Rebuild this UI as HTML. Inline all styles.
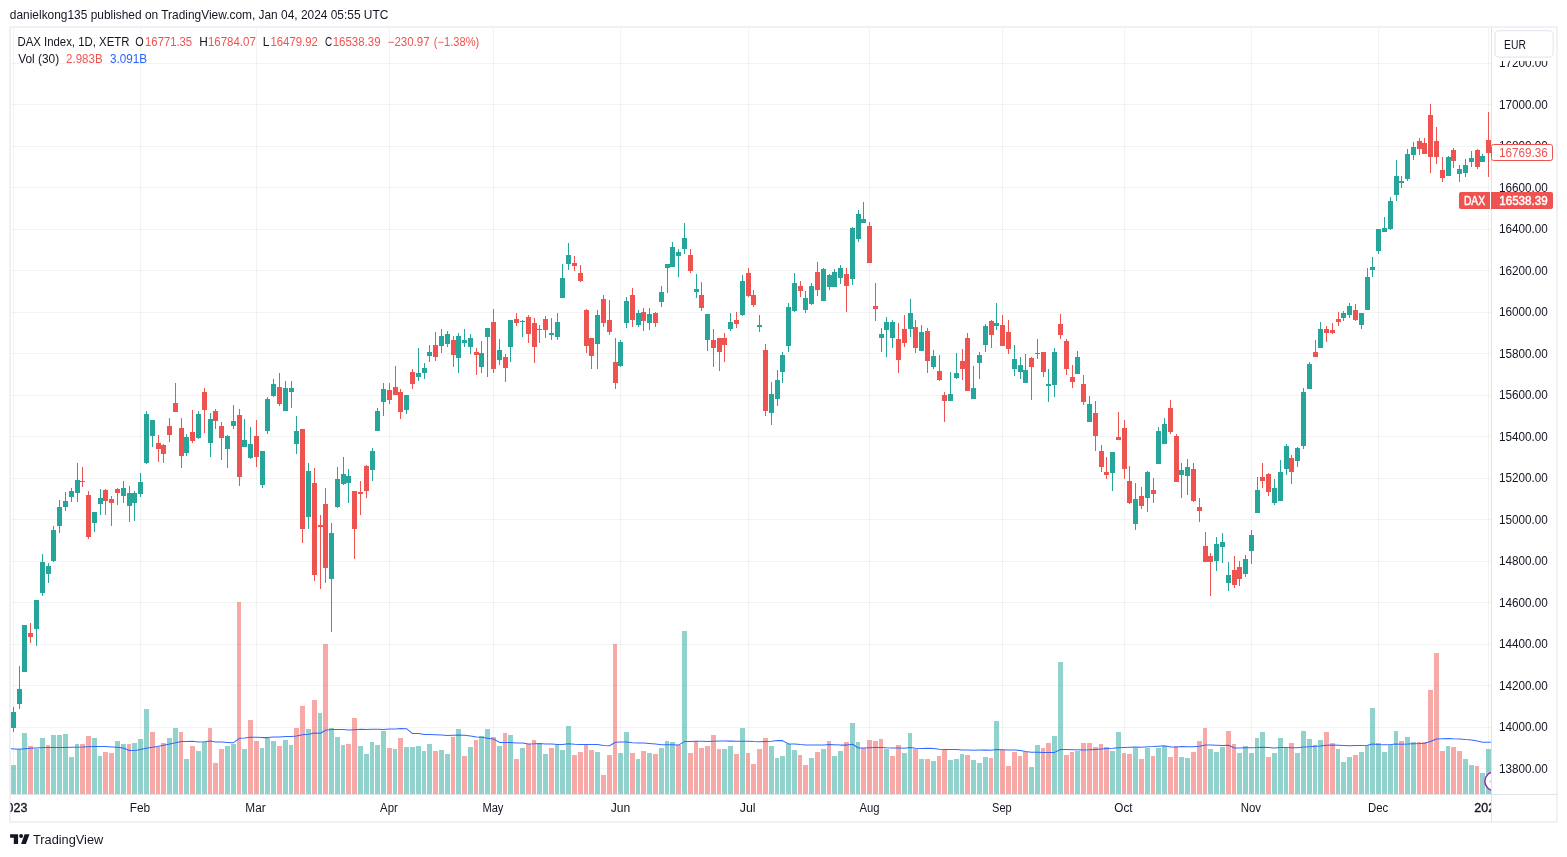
<!DOCTYPE html><html><head><meta charset="utf-8"><title>DAX Index chart</title><style>html,body{margin:0;padding:0;background:#fff}svg{display:block}</style></head><body><svg width="1567" height="857" viewBox="0 0 1567 857" font-family='"Liberation Sans", Arial, sans-serif'>
<rect width="1567" height="857" fill="#fff"/>
<text x="9.87" y="19.3" font-size="13" fill="#131722" textLength="378.43" lengthAdjust="spacingAndGlyphs">danielkong135 published on TradingView.com, Jan 04, 2024 05:55 UTC</text>
<rect x="10" y="27" width="1547" height="795" fill="#fff" stroke="#e0e3eb" stroke-width="1"/>
<defs><clipPath id="cp"><rect x="10.5" y="27.5" width="1480.5" height="766.5"/></clipPath><clipPath id="cpt"><rect x="10.5" y="795" width="1480.5" height="26.5"/></clipPath></defs>
<g shape-rendering="crispEdges" fill="rgba(42,46,57,0.06)">
<rect x="11" y="63" width="1480" height="1"/>
<rect x="11" y="104" width="1480" height="1"/>
<rect x="11" y="146" width="1480" height="1"/>
<rect x="11" y="187" width="1480" height="1"/>
<rect x="11" y="229" width="1480" height="1"/>
<rect x="11" y="270" width="1480" height="1"/>
<rect x="11" y="312" width="1480" height="1"/>
<rect x="11" y="353" width="1480" height="1"/>
<rect x="11" y="395" width="1480" height="1"/>
<rect x="11" y="436" width="1480" height="1"/>
<rect x="11" y="478" width="1480" height="1"/>
<rect x="11" y="519" width="1480" height="1"/>
<rect x="11" y="561" width="1480" height="1"/>
<rect x="11" y="602" width="1480" height="1"/>
<rect x="11" y="644" width="1480" height="1"/>
<rect x="11" y="685" width="1480" height="1"/>
<rect x="11" y="727" width="1480" height="1"/>
<rect x="11" y="768" width="1480" height="1"/>
<rect x="13" y="28" width="1" height="766"/>
<rect x="140" y="28" width="1" height="766"/>
<rect x="256" y="28" width="1" height="766"/>
<rect x="389" y="28" width="1" height="766"/>
<rect x="493" y="28" width="1" height="766"/>
<rect x="620" y="28" width="1" height="766"/>
<rect x="748" y="28" width="1" height="766"/>
<rect x="869" y="28" width="1" height="766"/>
<rect x="1002" y="28" width="1" height="766"/>
<rect x="1124" y="28" width="1" height="766"/>
<rect x="1251" y="28" width="1" height="766"/>
<rect x="1378" y="28" width="1" height="766"/>
<rect x="1488" y="28" width="1" height="766"/>
</g>
<g clip-path="url(#cp)" shape-rendering="crispEdges">
<rect x="11" y="765" width="5" height="29" fill="rgba(38,166,154,0.5)"/>
<rect x="17" y="749" width="4" height="45" fill="rgba(38,166,154,0.5)"/>
<rect x="22" y="733" width="5" height="61" fill="rgba(38,166,154,0.5)"/>
<rect x="28" y="746" width="5" height="48" fill="rgba(239,83,80,0.5)"/>
<rect x="34" y="749" width="5" height="45" fill="rgba(38,166,154,0.5)"/>
<rect x="40" y="738" width="5" height="56" fill="rgba(38,166,154,0.5)"/>
<rect x="46" y="745" width="4" height="49" fill="rgba(239,83,80,0.5)"/>
<rect x="51" y="735" width="5" height="59" fill="rgba(38,166,154,0.5)"/>
<rect x="57" y="735" width="5" height="59" fill="rgba(38,166,154,0.5)"/>
<rect x="63" y="734" width="5" height="60" fill="rgba(38,166,154,0.5)"/>
<rect x="69" y="757" width="5" height="37" fill="rgba(38,166,154,0.5)"/>
<rect x="75" y="744" width="4" height="50" fill="rgba(38,166,154,0.5)"/>
<rect x="80" y="744" width="5" height="50" fill="rgba(239,83,80,0.5)"/>
<rect x="86" y="736" width="5" height="58" fill="rgba(239,83,80,0.5)"/>
<rect x="92" y="738" width="5" height="56" fill="rgba(38,166,154,0.5)"/>
<rect x="98" y="756" width="4" height="38" fill="rgba(38,166,154,0.5)"/>
<rect x="103" y="752" width="5" height="42" fill="rgba(239,83,80,0.5)"/>
<rect x="109" y="753" width="5" height="41" fill="rgba(239,83,80,0.5)"/>
<rect x="115" y="741" width="5" height="53" fill="rgba(38,166,154,0.5)"/>
<rect x="121" y="744" width="5" height="50" fill="rgba(38,166,154,0.5)"/>
<rect x="127" y="744" width="4" height="50" fill="rgba(239,83,80,0.5)"/>
<rect x="132" y="743" width="5" height="51" fill="rgba(38,166,154,0.5)"/>
<rect x="138" y="739" width="5" height="55" fill="rgba(38,166,154,0.5)"/>
<rect x="144" y="709" width="5" height="85" fill="rgba(38,166,154,0.5)"/>
<rect x="150" y="732" width="5" height="62" fill="rgba(239,83,80,0.5)"/>
<rect x="156" y="747" width="4" height="47" fill="rgba(239,83,80,0.5)"/>
<rect x="161" y="743" width="5" height="51" fill="rgba(239,83,80,0.5)"/>
<rect x="167" y="738" width="5" height="56" fill="rgba(38,166,154,0.5)"/>
<rect x="173" y="728" width="5" height="66" fill="rgba(38,166,154,0.5)"/>
<rect x="179" y="732" width="4" height="62" fill="rgba(239,83,80,0.5)"/>
<rect x="184" y="759" width="5" height="35" fill="rgba(38,166,154,0.5)"/>
<rect x="190" y="746" width="5" height="48" fill="rgba(239,83,80,0.5)"/>
<rect x="196" y="751" width="5" height="43" fill="rgba(38,166,154,0.5)"/>
<rect x="202" y="742" width="5" height="52" fill="rgba(38,166,154,0.5)"/>
<rect x="208" y="728" width="4" height="66" fill="rgba(239,83,80,0.5)"/>
<rect x="213" y="763" width="5" height="31" fill="rgba(239,83,80,0.5)"/>
<rect x="219" y="749" width="5" height="45" fill="rgba(239,83,80,0.5)"/>
<rect x="225" y="746" width="5" height="48" fill="rgba(38,166,154,0.5)"/>
<rect x="231" y="744" width="5" height="50" fill="rgba(38,166,154,0.5)"/>
<rect x="237" y="602" width="4" height="192" fill="rgba(239,83,80,0.5)"/>
<rect x="242" y="749" width="5" height="45" fill="rgba(38,166,154,0.5)"/>
<rect x="248" y="720" width="5" height="74" fill="rgba(239,83,80,0.5)"/>
<rect x="254" y="741" width="5" height="53" fill="rgba(239,83,80,0.5)"/>
<rect x="260" y="748" width="4" height="46" fill="rgba(38,166,154,0.5)"/>
<rect x="265" y="738" width="5" height="56" fill="rgba(38,166,154,0.5)"/>
<rect x="271" y="741" width="5" height="53" fill="rgba(38,166,154,0.5)"/>
<rect x="277" y="746" width="5" height="48" fill="rgba(239,83,80,0.5)"/>
<rect x="283" y="740" width="5" height="54" fill="rgba(38,166,154,0.5)"/>
<rect x="289" y="745" width="4" height="49" fill="rgba(38,166,154,0.5)"/>
<rect x="294" y="728" width="5" height="66" fill="rgba(239,83,80,0.5)"/>
<rect x="300" y="706" width="5" height="88" fill="rgba(239,83,80,0.5)"/>
<rect x="306" y="729" width="5" height="65" fill="rgba(38,166,154,0.5)"/>
<rect x="312" y="700" width="5" height="94" fill="rgba(239,83,80,0.5)"/>
<rect x="318" y="713" width="4" height="81" fill="rgba(38,166,154,0.5)"/>
<rect x="323" y="644" width="5" height="150" fill="rgba(239,83,80,0.5)"/>
<rect x="329" y="728" width="5" height="66" fill="rgba(38,166,154,0.5)"/>
<rect x="335" y="737" width="5" height="57" fill="rgba(38,166,154,0.5)"/>
<rect x="341" y="745" width="4" height="49" fill="rgba(38,166,154,0.5)"/>
<rect x="346" y="744" width="5" height="50" fill="rgba(239,83,80,0.5)"/>
<rect x="352" y="718" width="5" height="76" fill="rgba(239,83,80,0.5)"/>
<rect x="358" y="746" width="5" height="48" fill="rgba(38,166,154,0.5)"/>
<rect x="364" y="754" width="5" height="40" fill="rgba(38,166,154,0.5)"/>
<rect x="370" y="742" width="4" height="52" fill="rgba(38,166,154,0.5)"/>
<rect x="375" y="745" width="5" height="49" fill="rgba(38,166,154,0.5)"/>
<rect x="381" y="731" width="5" height="63" fill="rgba(38,166,154,0.5)"/>
<rect x="387" y="748" width="5" height="46" fill="rgba(239,83,80,0.5)"/>
<rect x="393" y="749" width="4" height="45" fill="rgba(38,166,154,0.5)"/>
<rect x="398" y="738" width="5" height="56" fill="rgba(239,83,80,0.5)"/>
<rect x="404" y="747" width="5" height="47" fill="rgba(38,166,154,0.5)"/>
<rect x="410" y="747" width="5" height="47" fill="rgba(38,166,154,0.5)"/>
<rect x="416" y="746" width="5" height="48" fill="rgba(38,166,154,0.5)"/>
<rect x="422" y="751" width="4" height="43" fill="rgba(38,166,154,0.5)"/>
<rect x="427" y="744" width="5" height="50" fill="rgba(38,166,154,0.5)"/>
<rect x="433" y="751" width="5" height="43" fill="rgba(239,83,80,0.5)"/>
<rect x="439" y="750" width="5" height="44" fill="rgba(38,166,154,0.5)"/>
<rect x="445" y="754" width="5" height="40" fill="rgba(38,166,154,0.5)"/>
<rect x="451" y="737" width="4" height="57" fill="rgba(239,83,80,0.5)"/>
<rect x="456" y="729" width="5" height="65" fill="rgba(38,166,154,0.5)"/>
<rect x="462" y="756" width="5" height="38" fill="rgba(239,83,80,0.5)"/>
<rect x="468" y="747" width="5" height="47" fill="rgba(38,166,154,0.5)"/>
<rect x="474" y="740" width="4" height="54" fill="rgba(239,83,80,0.5)"/>
<rect x="479" y="736" width="5" height="58" fill="rgba(38,166,154,0.5)"/>
<rect x="485" y="729" width="5" height="65" fill="rgba(38,166,154,0.5)"/>
<rect x="491" y="737" width="5" height="57" fill="rgba(239,83,80,0.5)"/>
<rect x="497" y="746" width="5" height="48" fill="rgba(38,166,154,0.5)"/>
<rect x="503" y="733" width="4" height="61" fill="rgba(239,83,80,0.5)"/>
<rect x="508" y="735" width="5" height="59" fill="rgba(38,166,154,0.5)"/>
<rect x="514" y="759" width="5" height="35" fill="rgba(239,83,80,0.5)"/>
<rect x="520" y="748" width="5" height="46" fill="rgba(38,166,154,0.5)"/>
<rect x="526" y="744" width="5" height="50" fill="rgba(239,83,80,0.5)"/>
<rect x="532" y="740" width="4" height="54" fill="rgba(239,83,80,0.5)"/>
<rect x="537" y="744" width="5" height="50" fill="rgba(38,166,154,0.5)"/>
<rect x="543" y="754" width="5" height="40" fill="rgba(38,166,154,0.5)"/>
<rect x="549" y="748" width="5" height="46" fill="rgba(239,83,80,0.5)"/>
<rect x="555" y="745" width="4" height="49" fill="rgba(38,166,154,0.5)"/>
<rect x="560" y="750" width="5" height="44" fill="rgba(38,166,154,0.5)"/>
<rect x="566" y="726" width="5" height="68" fill="rgba(38,166,154,0.5)"/>
<rect x="572" y="755" width="5" height="39" fill="rgba(239,83,80,0.5)"/>
<rect x="578" y="752" width="5" height="42" fill="rgba(239,83,80,0.5)"/>
<rect x="584" y="745" width="4" height="49" fill="rgba(239,83,80,0.5)"/>
<rect x="589" y="750" width="5" height="44" fill="rgba(239,83,80,0.5)"/>
<rect x="595" y="752" width="5" height="42" fill="rgba(38,166,154,0.5)"/>
<rect x="601" y="775" width="5" height="19" fill="rgba(239,83,80,0.5)"/>
<rect x="607" y="755" width="5" height="39" fill="rgba(239,83,80,0.5)"/>
<rect x="613" y="644" width="4" height="150" fill="rgba(239,83,80,0.5)"/>
<rect x="618" y="753" width="5" height="41" fill="rgba(38,166,154,0.5)"/>
<rect x="624" y="732" width="5" height="62" fill="rgba(38,166,154,0.5)"/>
<rect x="630" y="753" width="5" height="41" fill="rgba(239,83,80,0.5)"/>
<rect x="636" y="759" width="4" height="35" fill="rgba(38,166,154,0.5)"/>
<rect x="641" y="751" width="5" height="43" fill="rgba(239,83,80,0.5)"/>
<rect x="647" y="753" width="5" height="41" fill="rgba(38,166,154,0.5)"/>
<rect x="653" y="754" width="5" height="40" fill="rgba(239,83,80,0.5)"/>
<rect x="659" y="748" width="5" height="46" fill="rgba(38,166,154,0.5)"/>
<rect x="665" y="741" width="4" height="53" fill="rgba(38,166,154,0.5)"/>
<rect x="670" y="742" width="5" height="52" fill="rgba(38,166,154,0.5)"/>
<rect x="676" y="745" width="5" height="49" fill="rgba(239,83,80,0.5)"/>
<rect x="682" y="631" width="5" height="163" fill="rgba(38,166,154,0.5)"/>
<rect x="688" y="753" width="5" height="41" fill="rgba(239,83,80,0.5)"/>
<rect x="694" y="741" width="4" height="53" fill="rgba(239,83,80,0.5)"/>
<rect x="699" y="748" width="5" height="46" fill="rgba(239,83,80,0.5)"/>
<rect x="705" y="746" width="5" height="48" fill="rgba(239,83,80,0.5)"/>
<rect x="711" y="735" width="5" height="59" fill="rgba(239,83,80,0.5)"/>
<rect x="717" y="749" width="4" height="45" fill="rgba(239,83,80,0.5)"/>
<rect x="722" y="749" width="5" height="45" fill="rgba(38,166,154,0.5)"/>
<rect x="728" y="746" width="5" height="48" fill="rgba(38,166,154,0.5)"/>
<rect x="734" y="754" width="5" height="40" fill="rgba(239,83,80,0.5)"/>
<rect x="740" y="728" width="5" height="66" fill="rgba(38,166,154,0.5)"/>
<rect x="746" y="753" width="4" height="41" fill="rgba(239,83,80,0.5)"/>
<rect x="751" y="764" width="5" height="30" fill="rgba(239,83,80,0.5)"/>
<rect x="757" y="749" width="5" height="45" fill="rgba(239,83,80,0.5)"/>
<rect x="763" y="738" width="5" height="56" fill="rgba(239,83,80,0.5)"/>
<rect x="769" y="746" width="5" height="48" fill="rgba(38,166,154,0.5)"/>
<rect x="775" y="758" width="4" height="36" fill="rgba(38,166,154,0.5)"/>
<rect x="780" y="756" width="5" height="38" fill="rgba(38,166,154,0.5)"/>
<rect x="786" y="744" width="5" height="50" fill="rgba(38,166,154,0.5)"/>
<rect x="792" y="750" width="5" height="44" fill="rgba(38,166,154,0.5)"/>
<rect x="798" y="755" width="4" height="39" fill="rgba(239,83,80,0.5)"/>
<rect x="803" y="765" width="5" height="29" fill="rgba(239,83,80,0.5)"/>
<rect x="809" y="758" width="5" height="36" fill="rgba(38,166,154,0.5)"/>
<rect x="815" y="752" width="5" height="42" fill="rgba(239,83,80,0.5)"/>
<rect x="821" y="749" width="5" height="45" fill="rgba(38,166,154,0.5)"/>
<rect x="827" y="741" width="4" height="53" fill="rgba(239,83,80,0.5)"/>
<rect x="832" y="756" width="5" height="38" fill="rgba(38,166,154,0.5)"/>
<rect x="838" y="751" width="5" height="43" fill="rgba(38,166,154,0.5)"/>
<rect x="844" y="742" width="5" height="52" fill="rgba(239,83,80,0.5)"/>
<rect x="850" y="723" width="5" height="71" fill="rgba(38,166,154,0.5)"/>
<rect x="856" y="742" width="4" height="52" fill="rgba(38,166,154,0.5)"/>
<rect x="861" y="748" width="5" height="46" fill="rgba(239,83,80,0.5)"/>
<rect x="867" y="740" width="5" height="54" fill="rgba(239,83,80,0.5)"/>
<rect x="873" y="741" width="5" height="53" fill="rgba(239,83,80,0.5)"/>
<rect x="879" y="739" width="4" height="55" fill="rgba(239,83,80,0.5)"/>
<rect x="884" y="749" width="5" height="45" fill="rgba(38,166,154,0.5)"/>
<rect x="890" y="756" width="5" height="38" fill="rgba(239,83,80,0.5)"/>
<rect x="896" y="745" width="5" height="49" fill="rgba(239,83,80,0.5)"/>
<rect x="902" y="753" width="5" height="41" fill="rgba(38,166,154,0.5)"/>
<rect x="908" y="733" width="4" height="61" fill="rgba(38,166,154,0.5)"/>
<rect x="913" y="749" width="5" height="45" fill="rgba(239,83,80,0.5)"/>
<rect x="919" y="759" width="5" height="35" fill="rgba(38,166,154,0.5)"/>
<rect x="925" y="759" width="5" height="35" fill="rgba(239,83,80,0.5)"/>
<rect x="931" y="761" width="5" height="33" fill="rgba(38,166,154,0.5)"/>
<rect x="937" y="756" width="4" height="38" fill="rgba(239,83,80,0.5)"/>
<rect x="942" y="750" width="5" height="44" fill="rgba(239,83,80,0.5)"/>
<rect x="948" y="760" width="5" height="34" fill="rgba(38,166,154,0.5)"/>
<rect x="954" y="759" width="5" height="35" fill="rgba(38,166,154,0.5)"/>
<rect x="960" y="754" width="4" height="40" fill="rgba(38,166,154,0.5)"/>
<rect x="965" y="755" width="5" height="39" fill="rgba(239,83,80,0.5)"/>
<rect x="971" y="760" width="5" height="34" fill="rgba(38,166,154,0.5)"/>
<rect x="977" y="763" width="5" height="31" fill="rgba(38,166,154,0.5)"/>
<rect x="983" y="757" width="5" height="37" fill="rgba(38,166,154,0.5)"/>
<rect x="989" y="758" width="4" height="36" fill="rgba(239,83,80,0.5)"/>
<rect x="994" y="721" width="5" height="73" fill="rgba(38,166,154,0.5)"/>
<rect x="1000" y="750" width="5" height="44" fill="rgba(239,83,80,0.5)"/>
<rect x="1006" y="766" width="5" height="28" fill="rgba(239,83,80,0.5)"/>
<rect x="1012" y="752" width="5" height="42" fill="rgba(239,83,80,0.5)"/>
<rect x="1018" y="756" width="4" height="38" fill="rgba(239,83,80,0.5)"/>
<rect x="1023" y="752" width="5" height="42" fill="rgba(239,83,80,0.5)"/>
<rect x="1029" y="767" width="5" height="27" fill="rgba(38,166,154,0.5)"/>
<rect x="1035" y="745" width="5" height="49" fill="rgba(38,166,154,0.5)"/>
<rect x="1041" y="748" width="4" height="46" fill="rgba(239,83,80,0.5)"/>
<rect x="1046" y="743" width="5" height="51" fill="rgba(239,83,80,0.5)"/>
<rect x="1052" y="736" width="5" height="58" fill="rgba(38,166,154,0.5)"/>
<rect x="1058" y="662" width="5" height="132" fill="rgba(38,166,154,0.5)"/>
<rect x="1064" y="755" width="5" height="39" fill="rgba(239,83,80,0.5)"/>
<rect x="1070" y="752" width="4" height="42" fill="rgba(239,83,80,0.5)"/>
<rect x="1075" y="751" width="5" height="43" fill="rgba(38,166,154,0.5)"/>
<rect x="1081" y="743" width="5" height="51" fill="rgba(239,83,80,0.5)"/>
<rect x="1087" y="743" width="5" height="51" fill="rgba(239,83,80,0.5)"/>
<rect x="1093" y="747" width="5" height="47" fill="rgba(239,83,80,0.5)"/>
<rect x="1099" y="744" width="4" height="50" fill="rgba(239,83,80,0.5)"/>
<rect x="1104" y="747" width="5" height="47" fill="rgba(239,83,80,0.5)"/>
<rect x="1110" y="751" width="5" height="43" fill="rgba(38,166,154,0.5)"/>
<rect x="1116" y="732" width="5" height="62" fill="rgba(38,166,154,0.5)"/>
<rect x="1122" y="753" width="4" height="41" fill="rgba(239,83,80,0.5)"/>
<rect x="1127" y="754" width="5" height="40" fill="rgba(239,83,80,0.5)"/>
<rect x="1133" y="748" width="5" height="46" fill="rgba(38,166,154,0.5)"/>
<rect x="1139" y="759" width="5" height="35" fill="rgba(239,83,80,0.5)"/>
<rect x="1145" y="748" width="5" height="46" fill="rgba(38,166,154,0.5)"/>
<rect x="1151" y="756" width="4" height="38" fill="rgba(239,83,80,0.5)"/>
<rect x="1156" y="748" width="5" height="46" fill="rgba(38,166,154,0.5)"/>
<rect x="1162" y="746" width="5" height="48" fill="rgba(38,166,154,0.5)"/>
<rect x="1168" y="757" width="5" height="37" fill="rgba(239,83,80,0.5)"/>
<rect x="1174" y="746" width="4" height="48" fill="rgba(239,83,80,0.5)"/>
<rect x="1179" y="757" width="5" height="37" fill="rgba(38,166,154,0.5)"/>
<rect x="1185" y="758" width="5" height="36" fill="rgba(38,166,154,0.5)"/>
<rect x="1191" y="752" width="5" height="42" fill="rgba(239,83,80,0.5)"/>
<rect x="1197" y="741" width="5" height="53" fill="rgba(239,83,80,0.5)"/>
<rect x="1203" y="728" width="4" height="66" fill="rgba(239,83,80,0.5)"/>
<rect x="1208" y="749" width="5" height="45" fill="rgba(38,166,154,0.5)"/>
<rect x="1214" y="752" width="5" height="42" fill="rgba(38,166,154,0.5)"/>
<rect x="1220" y="747" width="5" height="47" fill="rgba(38,166,154,0.5)"/>
<rect x="1226" y="731" width="5" height="63" fill="rgba(239,83,80,0.5)"/>
<rect x="1232" y="744" width="4" height="50" fill="rgba(239,83,80,0.5)"/>
<rect x="1237" y="753" width="5" height="41" fill="rgba(38,166,154,0.5)"/>
<rect x="1243" y="746" width="5" height="48" fill="rgba(38,166,154,0.5)"/>
<rect x="1249" y="753" width="5" height="41" fill="rgba(38,166,154,0.5)"/>
<rect x="1255" y="738" width="4" height="56" fill="rgba(38,166,154,0.5)"/>
<rect x="1260" y="732" width="5" height="62" fill="rgba(38,166,154,0.5)"/>
<rect x="1266" y="757" width="5" height="37" fill="rgba(239,83,80,0.5)"/>
<rect x="1272" y="753" width="5" height="41" fill="rgba(38,166,154,0.5)"/>
<rect x="1278" y="738" width="5" height="56" fill="rgba(38,166,154,0.5)"/>
<rect x="1284" y="748" width="4" height="46" fill="rgba(38,166,154,0.5)"/>
<rect x="1289" y="743" width="5" height="51" fill="rgba(239,83,80,0.5)"/>
<rect x="1295" y="753" width="5" height="41" fill="rgba(38,166,154,0.5)"/>
<rect x="1301" y="731" width="5" height="63" fill="rgba(38,166,154,0.5)"/>
<rect x="1307" y="739" width="5" height="55" fill="rgba(38,166,154,0.5)"/>
<rect x="1313" y="745" width="4" height="49" fill="rgba(38,166,154,0.5)"/>
<rect x="1318" y="740" width="5" height="54" fill="rgba(38,166,154,0.5)"/>
<rect x="1324" y="732" width="5" height="62" fill="rgba(239,83,80,0.5)"/>
<rect x="1330" y="743" width="5" height="51" fill="rgba(239,83,80,0.5)"/>
<rect x="1336" y="749" width="4" height="45" fill="rgba(38,166,154,0.5)"/>
<rect x="1341" y="762" width="5" height="32" fill="rgba(38,166,154,0.5)"/>
<rect x="1347" y="757" width="5" height="37" fill="rgba(38,166,154,0.5)"/>
<rect x="1353" y="755" width="5" height="39" fill="rgba(239,83,80,0.5)"/>
<rect x="1359" y="752" width="5" height="42" fill="rgba(38,166,154,0.5)"/>
<rect x="1365" y="745" width="4" height="49" fill="rgba(38,166,154,0.5)"/>
<rect x="1370" y="708" width="5" height="86" fill="rgba(38,166,154,0.5)"/>
<rect x="1376" y="743" width="5" height="51" fill="rgba(38,166,154,0.5)"/>
<rect x="1382" y="752" width="5" height="42" fill="rgba(38,166,154,0.5)"/>
<rect x="1388" y="745" width="5" height="49" fill="rgba(38,166,154,0.5)"/>
<rect x="1394" y="731" width="4" height="63" fill="rgba(38,166,154,0.5)"/>
<rect x="1399" y="741" width="5" height="53" fill="rgba(239,83,80,0.5)"/>
<rect x="1405" y="737" width="5" height="57" fill="rgba(38,166,154,0.5)"/>
<rect x="1411" y="742" width="5" height="52" fill="rgba(38,166,154,0.5)"/>
<rect x="1417" y="742" width="4" height="52" fill="rgba(239,83,80,0.5)"/>
<rect x="1422" y="742" width="5" height="52" fill="rgba(239,83,80,0.5)"/>
<rect x="1428" y="690" width="5" height="104" fill="rgba(239,83,80,0.5)"/>
<rect x="1434" y="653" width="5" height="141" fill="rgba(239,83,80,0.5)"/>
<rect x="1440" y="751" width="5" height="43" fill="rgba(239,83,80,0.5)"/>
<rect x="1446" y="746" width="4" height="48" fill="rgba(38,166,154,0.5)"/>
<rect x="1451" y="747" width="5" height="47" fill="rgba(239,83,80,0.5)"/>
<rect x="1457" y="751" width="5" height="43" fill="rgba(239,83,80,0.5)"/>
<rect x="1463" y="759" width="5" height="35" fill="rgba(38,166,154,0.5)"/>
<rect x="1469" y="765" width="5" height="29" fill="rgba(38,166,154,0.5)"/>
<rect x="1475" y="766" width="4" height="28" fill="rgba(239,83,80,0.5)"/>
<rect x="1480" y="773" width="5" height="21" fill="rgba(38,166,154,0.5)"/>
<rect x="1486" y="749" width="5" height="45" fill="rgba(38,166,154,0.5)"/>
</g>
<path d="M10.8,748.8 L19.2,749.2 L30.4,748.3 L45.3,747.4 L64.0,747.5 L82.7,747.0 L93.9,746.4 L105.1,746.6 L120.0,747.4 L123.8,748.3 L129.4,750.5 L136.8,750.2 L146.2,748.3 L157.4,746.4 L168.6,744.2 L181.5,741.6 L186.5,741.4 L192.5,741.3 L198.5,741.9 L204.5,741.8 L210.5,741.1 L215.5,741.9 L221.5,742.1 L227.5,742.4 L233.5,742.7 L239.5,738.3 L244.5,738.1 L250.5,737.3 L256.5,737.2 L262.5,737.6 L267.5,737.6 L273.5,737.1 L279.5,736.9 L285.5,736.5 L291.5,736.6 L296.5,736.0 L302.5,734.8 L308.5,734.3 L314.5,733.0 L320.5,733.2 L325.5,730.2 L331.5,729.6 L337.5,729.4 L343.5,729.6 L348.5,730.1 L354.5,729.7 L360.5,729.2 L366.5,729.5 L372.5,729.2 L377.5,729.3 L383.5,729.4 L389.5,728.9 L395.5,728.9 L400.5,728.6 L406.5,728.7 L412.5,733.6 L418.5,733.5 L424.5,734.5 L429.5,734.6 L435.5,734.7 L441.5,735.1 L447.5,735.5 L453.5,735.2 L458.5,734.9 L464.5,735.2 L470.5,735.9 L476.5,737.0 L481.5,737.3 L487.5,738.2 L493.5,739.0 L499.5,742.4 L505.5,742.6 L510.5,742.5 L516.5,743.0 L522.5,743.1 L528.5,744.0 L534.5,743.8 L539.5,743.5 L545.5,743.9 L551.5,744.0 L557.5,744.4 L562.5,744.5 L568.5,743.7 L574.5,744.3 L580.5,744.5 L586.5,744.4 L591.5,744.5 L597.5,744.6 L603.5,745.6 L609.5,745.7 L615.5,742.2 L620.5,742.1 L626.5,742.0 L632.5,742.8 L638.5,742.9 L643.5,743.0 L649.5,743.4 L655.5,744.0 L661.5,744.7 L667.5,744.8 L672.5,744.7 L678.5,745.1 L684.5,741.6 L690.5,741.4 L696.5,741.2 L701.5,741.3 L707.5,741.5 L713.5,741.2 L719.5,741.0 L724.5,741.1 L730.5,741.1 L736.5,741.2 L742.5,741.3 L748.5,741.2 L753.5,741.6 L759.5,741.8 L765.5,741.4 L771.5,741.2 L777.5,740.6 L782.5,740.6 L788.5,744.0 L794.5,743.9 L800.5,744.6 L805.5,745.0 L811.5,745.0 L817.5,745.0 L823.5,744.9 L829.5,744.5 L834.5,744.7 L840.5,745.1 L846.5,745.1 L852.5,744.3 L858.5,748.0 L863.5,747.9 L869.5,747.8 L875.5,747.6 L881.5,747.4 L886.5,747.8 L892.5,748.1 L898.5,747.9 L904.5,748.2 L910.5,747.5 L915.5,748.2 L921.5,748.4 L927.5,748.2 L933.5,748.6 L939.5,749.2 L944.5,749.4 L950.5,749.4 L956.5,749.5 L962.5,749.9 L967.5,750.0 L973.5,750.2 L979.5,750.1 L985.5,750.1 L991.5,750.3 L996.5,749.4 L1002.5,749.7 L1008.5,750.0 L1014.5,750.0 L1020.5,750.5 L1025.5,751.5 L1031.5,752.3 L1037.5,752.2 L1043.5,752.5 L1048.5,752.5 L1054.5,752.4 L1060.5,749.5 L1066.5,749.5 L1072.5,749.7 L1077.5,749.7 L1083.5,750.0 L1089.5,749.8 L1095.5,749.4 L1101.5,748.9 L1106.5,748.4 L1112.5,748.3 L1118.5,747.7 L1124.5,747.4 L1129.5,747.3 L1135.5,747.1 L1141.5,747.2 L1147.5,746.8 L1153.5,746.6 L1158.5,746.2 L1164.5,745.8 L1170.5,747.0 L1176.5,746.9 L1181.5,746.6 L1187.5,746.8 L1193.5,746.7 L1199.5,746.3 L1205.5,745.0 L1210.5,745.1 L1216.5,745.3 L1222.5,745.4 L1228.5,745.3 L1234.5,748.0 L1239.5,747.9 L1245.5,747.7 L1251.5,747.8 L1257.5,747.6 L1262.5,747.2 L1268.5,747.6 L1274.5,747.9 L1280.5,747.6 L1286.5,747.5 L1291.5,747.8 L1297.5,747.8 L1303.5,747.1 L1309.5,746.8 L1315.5,746.3 L1320.5,746.0 L1326.5,745.2 L1332.5,745.1 L1338.5,745.2 L1343.5,745.4 L1349.5,745.7 L1355.5,745.6 L1361.5,745.5 L1367.5,745.2 L1372.5,744.1 L1378.5,744.6 L1384.5,744.7 L1390.5,744.5 L1396.5,744.0 L1401.5,744.3 L1407.5,744.1 L1413.5,743.7 L1419.5,743.5 L1424.5,743.2 L1430.5,741.6 L1436.5,739.0 L1442.5,738.8 L1448.5,738.5 L1453.5,738.8 L1459.5,738.9 L1465.5,739.5 L1471.5,739.9 L1477.5,741.0 L1482.5,742.2 L1488.5,742.3 L1494.5,742.4" fill="none" stroke="#2962ff" stroke-width="1.05" stroke-opacity="0.95" stroke-linejoin="round" clip-path="url(#cp)"/>
<g clip-path="url(#cp)" shape-rendering="crispEdges">
<rect x="13" y="707" width="1" height="25" fill="#26a69a"/>
<rect x="11" y="712" width="5" height="16" fill="#26a69a"/>
<rect x="19" y="666" width="1" height="43" fill="#26a69a"/>
<rect x="17" y="689" width="5" height="15" fill="#26a69a"/>
<rect x="24" y="625" width="1" height="47" fill="#26a69a"/>
<rect x="22" y="625" width="5" height="47" fill="#26a69a"/>
<rect x="30" y="623" width="1" height="20" fill="#ef5350"/>
<rect x="28" y="633" width="5" height="4" fill="#ef5350"/>
<rect x="36" y="600" width="1" height="46" fill="#26a69a"/>
<rect x="34" y="600" width="5" height="29" fill="#26a69a"/>
<rect x="42" y="554" width="1" height="42" fill="#26a69a"/>
<rect x="40" y="562" width="5" height="31" fill="#26a69a"/>
<rect x="48" y="563" width="1" height="20" fill="#26a69a"/>
<rect x="46" y="566" width="5" height="8" fill="#26a69a"/>
<rect x="53" y="526" width="1" height="36" fill="#26a69a"/>
<rect x="51" y="530" width="5" height="31" fill="#26a69a"/>
<rect x="59" y="500" width="1" height="33" fill="#26a69a"/>
<rect x="57" y="507" width="5" height="19" fill="#26a69a"/>
<rect x="65" y="492" width="1" height="19" fill="#26a69a"/>
<rect x="63" y="501" width="5" height="6" fill="#26a69a"/>
<rect x="71" y="488" width="1" height="14" fill="#26a69a"/>
<rect x="69" y="491" width="5" height="6" fill="#26a69a"/>
<rect x="77" y="463" width="1" height="39" fill="#26a69a"/>
<rect x="75" y="480" width="5" height="13" fill="#26a69a"/>
<rect x="82" y="467" width="1" height="20" fill="#ef5350"/>
<rect x="80" y="481" width="5" height="1" fill="#ef5350"/>
<rect x="88" y="491" width="1" height="48" fill="#ef5350"/>
<rect x="86" y="495" width="5" height="42" fill="#ef5350"/>
<rect x="94" y="512" width="1" height="20" fill="#26a69a"/>
<rect x="92" y="512" width="5" height="11" fill="#26a69a"/>
<rect x="100" y="489" width="1" height="26" fill="#26a69a"/>
<rect x="98" y="498" width="5" height="6" fill="#26a69a"/>
<rect x="105" y="489" width="1" height="26" fill="#ef5350"/>
<rect x="103" y="490" width="5" height="11" fill="#ef5350"/>
<rect x="111" y="496" width="1" height="30" fill="#ef5350"/>
<rect x="109" y="499" width="5" height="4" fill="#ef5350"/>
<rect x="117" y="488" width="1" height="17" fill="#ef5350"/>
<rect x="115" y="489" width="5" height="4" fill="#ef5350"/>
<rect x="123" y="481" width="1" height="22" fill="#26a69a"/>
<rect x="121" y="488" width="5" height="8" fill="#26a69a"/>
<rect x="129" y="486" width="1" height="36" fill="#26a69a"/>
<rect x="127" y="493" width="5" height="13" fill="#26a69a"/>
<rect x="134" y="491" width="1" height="30" fill="#26a69a"/>
<rect x="132" y="493" width="5" height="10" fill="#26a69a"/>
<rect x="140" y="473" width="1" height="24" fill="#26a69a"/>
<rect x="138" y="482" width="5" height="12" fill="#26a69a"/>
<rect x="146" y="411" width="1" height="53" fill="#26a69a"/>
<rect x="144" y="414" width="5" height="49" fill="#26a69a"/>
<rect x="152" y="420" width="1" height="27" fill="#26a69a"/>
<rect x="150" y="420" width="5" height="16" fill="#26a69a"/>
<rect x="158" y="435" width="1" height="27" fill="#ef5350"/>
<rect x="156" y="443" width="5" height="6" fill="#ef5350"/>
<rect x="163" y="444" width="1" height="19" fill="#ef5350"/>
<rect x="161" y="445" width="5" height="9" fill="#ef5350"/>
<rect x="169" y="418" width="1" height="24" fill="#ef5350"/>
<rect x="167" y="426" width="5" height="9" fill="#ef5350"/>
<rect x="175" y="383" width="1" height="29" fill="#ef5350"/>
<rect x="173" y="403" width="5" height="9" fill="#ef5350"/>
<rect x="181" y="418" width="1" height="50" fill="#ef5350"/>
<rect x="179" y="428" width="5" height="28" fill="#ef5350"/>
<rect x="186" y="434" width="1" height="22" fill="#26a69a"/>
<rect x="184" y="437" width="5" height="16" fill="#26a69a"/>
<rect x="192" y="410" width="1" height="33" fill="#ef5350"/>
<rect x="190" y="432" width="5" height="9" fill="#ef5350"/>
<rect x="198" y="411" width="1" height="28" fill="#26a69a"/>
<rect x="196" y="414" width="5" height="24" fill="#26a69a"/>
<rect x="204" y="388" width="1" height="45" fill="#ef5350"/>
<rect x="202" y="392" width="5" height="18" fill="#ef5350"/>
<rect x="210" y="413" width="1" height="44" fill="#26a69a"/>
<rect x="208" y="419" width="5" height="24" fill="#26a69a"/>
<rect x="215" y="409" width="1" height="20" fill="#ef5350"/>
<rect x="213" y="411" width="5" height="10" fill="#ef5350"/>
<rect x="221" y="422" width="1" height="38" fill="#ef5350"/>
<rect x="219" y="426" width="5" height="12" fill="#ef5350"/>
<rect x="227" y="435" width="1" height="33" fill="#26a69a"/>
<rect x="225" y="436" width="5" height="13" fill="#26a69a"/>
<rect x="233" y="405" width="1" height="24" fill="#26a69a"/>
<rect x="231" y="421" width="5" height="5" fill="#26a69a"/>
<rect x="239" y="409" width="1" height="77" fill="#ef5350"/>
<rect x="237" y="415" width="5" height="62" fill="#ef5350"/>
<rect x="244" y="419" width="1" height="28" fill="#26a69a"/>
<rect x="242" y="440" width="5" height="7" fill="#26a69a"/>
<rect x="250" y="427" width="1" height="32" fill="#26a69a"/>
<rect x="248" y="444" width="5" height="14" fill="#26a69a"/>
<rect x="256" y="420" width="1" height="47" fill="#ef5350"/>
<rect x="254" y="436" width="5" height="21" fill="#ef5350"/>
<rect x="262" y="451" width="1" height="37" fill="#26a69a"/>
<rect x="260" y="451" width="5" height="34" fill="#26a69a"/>
<rect x="267" y="397" width="1" height="37" fill="#26a69a"/>
<rect x="265" y="399" width="5" height="32" fill="#26a69a"/>
<rect x="273" y="379" width="1" height="18" fill="#26a69a"/>
<rect x="271" y="384" width="5" height="12" fill="#26a69a"/>
<rect x="279" y="373" width="1" height="33" fill="#ef5350"/>
<rect x="277" y="387" width="5" height="17" fill="#ef5350"/>
<rect x="285" y="381" width="1" height="30" fill="#26a69a"/>
<rect x="283" y="388" width="5" height="23" fill="#26a69a"/>
<rect x="291" y="381" width="1" height="27" fill="#26a69a"/>
<rect x="289" y="388" width="5" height="4" fill="#26a69a"/>
<rect x="296" y="416" width="1" height="38" fill="#26a69a"/>
<rect x="294" y="431" width="5" height="13" fill="#26a69a"/>
<rect x="302" y="429" width="1" height="114" fill="#ef5350"/>
<rect x="300" y="429" width="5" height="100" fill="#ef5350"/>
<rect x="308" y="463" width="1" height="66" fill="#26a69a"/>
<rect x="306" y="471" width="5" height="46" fill="#26a69a"/>
<rect x="314" y="468" width="1" height="113" fill="#ef5350"/>
<rect x="312" y="483" width="5" height="92" fill="#ef5350"/>
<rect x="320" y="515" width="1" height="74" fill="#ef5350"/>
<rect x="318" y="525" width="5" height="2" fill="#ef5350"/>
<rect x="325" y="488" width="1" height="95" fill="#ef5350"/>
<rect x="323" y="504" width="5" height="64" fill="#ef5350"/>
<rect x="331" y="523" width="1" height="109" fill="#26a69a"/>
<rect x="329" y="533" width="5" height="46" fill="#26a69a"/>
<rect x="337" y="467" width="1" height="41" fill="#26a69a"/>
<rect x="335" y="479" width="5" height="28" fill="#26a69a"/>
<rect x="343" y="457" width="1" height="28" fill="#26a69a"/>
<rect x="341" y="474" width="5" height="10" fill="#26a69a"/>
<rect x="348" y="469" width="1" height="34" fill="#26a69a"/>
<rect x="346" y="476" width="5" height="7" fill="#26a69a"/>
<rect x="354" y="491" width="1" height="68" fill="#ef5350"/>
<rect x="352" y="491" width="5" height="38" fill="#ef5350"/>
<rect x="360" y="481" width="1" height="34" fill="#ef5350"/>
<rect x="358" y="492" width="5" height="2" fill="#ef5350"/>
<rect x="366" y="465" width="1" height="33" fill="#ef5350"/>
<rect x="364" y="466" width="5" height="25" fill="#ef5350"/>
<rect x="372" y="448" width="1" height="33" fill="#26a69a"/>
<rect x="370" y="451" width="5" height="19" fill="#26a69a"/>
<rect x="377" y="408" width="1" height="23" fill="#26a69a"/>
<rect x="375" y="411" width="5" height="20" fill="#26a69a"/>
<rect x="383" y="383" width="1" height="33" fill="#26a69a"/>
<rect x="381" y="389" width="5" height="13" fill="#26a69a"/>
<rect x="389" y="383" width="1" height="21" fill="#ef5350"/>
<rect x="387" y="390" width="5" height="10" fill="#ef5350"/>
<rect x="395" y="366" width="1" height="29" fill="#ef5350"/>
<rect x="393" y="387" width="5" height="8" fill="#ef5350"/>
<rect x="400" y="389" width="1" height="30" fill="#ef5350"/>
<rect x="398" y="392" width="5" height="20" fill="#ef5350"/>
<rect x="406" y="395" width="1" height="19" fill="#26a69a"/>
<rect x="404" y="395" width="5" height="15" fill="#26a69a"/>
<rect x="412" y="369" width="1" height="20" fill="#ef5350"/>
<rect x="410" y="372" width="5" height="12" fill="#ef5350"/>
<rect x="418" y="348" width="1" height="33" fill="#26a69a"/>
<rect x="416" y="373" width="5" height="4" fill="#26a69a"/>
<rect x="424" y="363" width="1" height="16" fill="#26a69a"/>
<rect x="422" y="368" width="5" height="5" fill="#26a69a"/>
<rect x="429" y="345" width="1" height="17" fill="#26a69a"/>
<rect x="427" y="352" width="5" height="4" fill="#26a69a"/>
<rect x="435" y="332" width="1" height="29" fill="#ef5350"/>
<rect x="433" y="345" width="5" height="12" fill="#ef5350"/>
<rect x="441" y="329" width="1" height="24" fill="#26a69a"/>
<rect x="439" y="336" width="5" height="10" fill="#26a69a"/>
<rect x="447" y="331" width="1" height="16" fill="#26a69a"/>
<rect x="445" y="334" width="5" height="10" fill="#26a69a"/>
<rect x="453" y="336" width="1" height="31" fill="#ef5350"/>
<rect x="451" y="340" width="5" height="15" fill="#ef5350"/>
<rect x="458" y="333" width="1" height="40" fill="#26a69a"/>
<rect x="456" y="336" width="5" height="22" fill="#26a69a"/>
<rect x="464" y="329" width="1" height="18" fill="#26a69a"/>
<rect x="462" y="340" width="5" height="3" fill="#26a69a"/>
<rect x="470" y="334" width="1" height="20" fill="#26a69a"/>
<rect x="468" y="338" width="5" height="9" fill="#26a69a"/>
<rect x="476" y="348" width="1" height="27" fill="#ef5350"/>
<rect x="474" y="352" width="5" height="3" fill="#ef5350"/>
<rect x="481" y="341" width="1" height="32" fill="#26a69a"/>
<rect x="479" y="353" width="5" height="14" fill="#26a69a"/>
<rect x="487" y="328" width="1" height="49" fill="#26a69a"/>
<rect x="485" y="328" width="5" height="9" fill="#26a69a"/>
<rect x="493" y="309" width="1" height="64" fill="#ef5350"/>
<rect x="491" y="322" width="5" height="47" fill="#ef5350"/>
<rect x="499" y="339" width="1" height="26" fill="#26a69a"/>
<rect x="497" y="350" width="5" height="10" fill="#26a69a"/>
<rect x="505" y="354" width="1" height="28" fill="#ef5350"/>
<rect x="503" y="357" width="5" height="11" fill="#ef5350"/>
<rect x="510" y="320" width="1" height="42" fill="#26a69a"/>
<rect x="508" y="320" width="5" height="27" fill="#26a69a"/>
<rect x="516" y="313" width="1" height="13" fill="#ef5350"/>
<rect x="514" y="319" width="5" height="4" fill="#ef5350"/>
<rect x="522" y="320" width="1" height="17" fill="#26a69a"/>
<rect x="520" y="321" width="5" height="1" fill="#26a69a"/>
<rect x="528" y="315" width="1" height="28" fill="#ef5350"/>
<rect x="526" y="317" width="5" height="17" fill="#ef5350"/>
<rect x="534" y="318" width="1" height="45" fill="#ef5350"/>
<rect x="532" y="323" width="5" height="24" fill="#ef5350"/>
<rect x="539" y="325" width="1" height="18" fill="#ef5350"/>
<rect x="537" y="329" width="5" height="1" fill="#ef5350"/>
<rect x="545" y="316" width="1" height="22" fill="#ef5350"/>
<rect x="543" y="319" width="5" height="11" fill="#ef5350"/>
<rect x="551" y="318" width="1" height="22" fill="#26a69a"/>
<rect x="549" y="333" width="5" height="2" fill="#26a69a"/>
<rect x="557" y="313" width="1" height="27" fill="#26a69a"/>
<rect x="555" y="322" width="5" height="15" fill="#26a69a"/>
<rect x="562" y="264" width="1" height="34" fill="#26a69a"/>
<rect x="560" y="278" width="5" height="20" fill="#26a69a"/>
<rect x="568" y="243" width="1" height="27" fill="#26a69a"/>
<rect x="566" y="255" width="5" height="9" fill="#26a69a"/>
<rect x="574" y="256" width="1" height="15" fill="#ef5350"/>
<rect x="572" y="263" width="5" height="3" fill="#ef5350"/>
<rect x="580" y="265" width="1" height="17" fill="#ef5350"/>
<rect x="578" y="273" width="5" height="8" fill="#ef5350"/>
<rect x="586" y="309" width="1" height="44" fill="#ef5350"/>
<rect x="584" y="310" width="5" height="36" fill="#ef5350"/>
<rect x="591" y="338" width="1" height="31" fill="#ef5350"/>
<rect x="589" y="338" width="5" height="18" fill="#ef5350"/>
<rect x="597" y="310" width="1" height="59" fill="#26a69a"/>
<rect x="595" y="315" width="5" height="29" fill="#26a69a"/>
<rect x="603" y="295" width="1" height="32" fill="#ef5350"/>
<rect x="601" y="299" width="5" height="24" fill="#ef5350"/>
<rect x="609" y="300" width="1" height="35" fill="#ef5350"/>
<rect x="607" y="320" width="5" height="12" fill="#ef5350"/>
<rect x="615" y="338" width="1" height="51" fill="#ef5350"/>
<rect x="613" y="362" width="5" height="21" fill="#ef5350"/>
<rect x="620" y="340" width="1" height="27" fill="#26a69a"/>
<rect x="618" y="342" width="5" height="24" fill="#26a69a"/>
<rect x="626" y="297" width="1" height="31" fill="#26a69a"/>
<rect x="624" y="301" width="5" height="22" fill="#26a69a"/>
<rect x="632" y="288" width="1" height="39" fill="#ef5350"/>
<rect x="630" y="295" width="5" height="25" fill="#ef5350"/>
<rect x="638" y="310" width="1" height="17" fill="#26a69a"/>
<rect x="636" y="313" width="5" height="12" fill="#26a69a"/>
<rect x="643" y="308" width="1" height="23" fill="#ef5350"/>
<rect x="641" y="312" width="5" height="9" fill="#ef5350"/>
<rect x="649" y="308" width="1" height="22" fill="#26a69a"/>
<rect x="647" y="314" width="5" height="9" fill="#26a69a"/>
<rect x="655" y="312" width="1" height="15" fill="#ef5350"/>
<rect x="653" y="313" width="5" height="10" fill="#ef5350"/>
<rect x="661" y="286" width="1" height="21" fill="#26a69a"/>
<rect x="659" y="292" width="5" height="10" fill="#26a69a"/>
<rect x="667" y="264" width="1" height="29" fill="#26a69a"/>
<rect x="665" y="264" width="5" height="4" fill="#26a69a"/>
<rect x="672" y="242" width="1" height="25" fill="#26a69a"/>
<rect x="670" y="247" width="5" height="20" fill="#26a69a"/>
<rect x="678" y="249" width="1" height="28" fill="#26a69a"/>
<rect x="676" y="252" width="5" height="4" fill="#26a69a"/>
<rect x="684" y="223" width="1" height="31" fill="#26a69a"/>
<rect x="682" y="238" width="5" height="11" fill="#26a69a"/>
<rect x="690" y="249" width="1" height="24" fill="#ef5350"/>
<rect x="688" y="255" width="5" height="16" fill="#ef5350"/>
<rect x="696" y="274" width="1" height="24" fill="#26a69a"/>
<rect x="694" y="289" width="5" height="3" fill="#26a69a"/>
<rect x="701" y="282" width="1" height="29" fill="#ef5350"/>
<rect x="699" y="295" width="5" height="13" fill="#ef5350"/>
<rect x="707" y="314" width="1" height="37" fill="#26a69a"/>
<rect x="705" y="314" width="5" height="26" fill="#26a69a"/>
<rect x="713" y="329" width="1" height="38" fill="#ef5350"/>
<rect x="711" y="340" width="5" height="8" fill="#ef5350"/>
<rect x="719" y="338" width="1" height="33" fill="#ef5350"/>
<rect x="717" y="338" width="5" height="14" fill="#ef5350"/>
<rect x="724" y="333" width="1" height="29" fill="#ef5350"/>
<rect x="722" y="338" width="5" height="7" fill="#ef5350"/>
<rect x="730" y="313" width="1" height="18" fill="#26a69a"/>
<rect x="728" y="322" width="5" height="7" fill="#26a69a"/>
<rect x="736" y="312" width="1" height="16" fill="#ef5350"/>
<rect x="734" y="320" width="5" height="4" fill="#ef5350"/>
<rect x="742" y="275" width="1" height="41" fill="#26a69a"/>
<rect x="740" y="281" width="5" height="34" fill="#26a69a"/>
<rect x="748" y="268" width="1" height="29" fill="#ef5350"/>
<rect x="746" y="273" width="5" height="23" fill="#ef5350"/>
<rect x="753" y="290" width="1" height="17" fill="#ef5350"/>
<rect x="751" y="295" width="5" height="10" fill="#ef5350"/>
<rect x="759" y="315" width="1" height="17" fill="#26a69a"/>
<rect x="757" y="325" width="5" height="2" fill="#26a69a"/>
<rect x="765" y="344" width="1" height="72" fill="#ef5350"/>
<rect x="763" y="350" width="5" height="61" fill="#ef5350"/>
<rect x="771" y="382" width="1" height="43" fill="#26a69a"/>
<rect x="769" y="394" width="5" height="19" fill="#26a69a"/>
<rect x="777" y="370" width="1" height="36" fill="#26a69a"/>
<rect x="775" y="380" width="5" height="19" fill="#26a69a"/>
<rect x="782" y="352" width="1" height="31" fill="#26a69a"/>
<rect x="780" y="355" width="5" height="17" fill="#26a69a"/>
<rect x="788" y="303" width="1" height="49" fill="#26a69a"/>
<rect x="786" y="307" width="5" height="39" fill="#26a69a"/>
<rect x="794" y="273" width="1" height="39" fill="#26a69a"/>
<rect x="792" y="283" width="5" height="28" fill="#26a69a"/>
<rect x="800" y="281" width="1" height="16" fill="#ef5350"/>
<rect x="798" y="286" width="5" height="5" fill="#ef5350"/>
<rect x="805" y="291" width="1" height="22" fill="#26a69a"/>
<rect x="803" y="298" width="5" height="12" fill="#26a69a"/>
<rect x="811" y="283" width="1" height="22" fill="#26a69a"/>
<rect x="809" y="286" width="5" height="18" fill="#26a69a"/>
<rect x="817" y="262" width="1" height="34" fill="#ef5350"/>
<rect x="815" y="272" width="5" height="18" fill="#ef5350"/>
<rect x="823" y="268" width="1" height="33" fill="#26a69a"/>
<rect x="821" y="269" width="5" height="32" fill="#26a69a"/>
<rect x="829" y="274" width="1" height="16" fill="#26a69a"/>
<rect x="827" y="275" width="5" height="12" fill="#26a69a"/>
<rect x="834" y="269" width="1" height="18" fill="#26a69a"/>
<rect x="832" y="272" width="5" height="15" fill="#26a69a"/>
<rect x="840" y="265" width="1" height="19" fill="#26a69a"/>
<rect x="838" y="268" width="5" height="10" fill="#26a69a"/>
<rect x="846" y="268" width="1" height="44" fill="#ef5350"/>
<rect x="844" y="274" width="5" height="12" fill="#ef5350"/>
<rect x="852" y="227" width="1" height="58" fill="#26a69a"/>
<rect x="850" y="228" width="5" height="51" fill="#26a69a"/>
<rect x="858" y="210" width="1" height="32" fill="#26a69a"/>
<rect x="856" y="214" width="5" height="25" fill="#26a69a"/>
<rect x="863" y="202" width="1" height="21" fill="#26a69a"/>
<rect x="861" y="219" width="5" height="4" fill="#26a69a"/>
<rect x="869" y="222" width="1" height="41" fill="#ef5350"/>
<rect x="867" y="226" width="5" height="37" fill="#ef5350"/>
<rect x="875" y="283" width="1" height="38" fill="#ef5350"/>
<rect x="873" y="306" width="5" height="3" fill="#ef5350"/>
<rect x="881" y="328" width="1" height="24" fill="#26a69a"/>
<rect x="879" y="334" width="5" height="4" fill="#26a69a"/>
<rect x="886" y="317" width="1" height="40" fill="#26a69a"/>
<rect x="884" y="322" width="5" height="8" fill="#26a69a"/>
<rect x="892" y="320" width="1" height="28" fill="#26a69a"/>
<rect x="890" y="322" width="5" height="16" fill="#26a69a"/>
<rect x="898" y="323" width="1" height="50" fill="#ef5350"/>
<rect x="896" y="339" width="5" height="21" fill="#ef5350"/>
<rect x="904" y="315" width="1" height="32" fill="#ef5350"/>
<rect x="902" y="329" width="5" height="14" fill="#ef5350"/>
<rect x="910" y="299" width="1" height="38" fill="#26a69a"/>
<rect x="908" y="313" width="5" height="16" fill="#26a69a"/>
<rect x="915" y="320" width="1" height="33" fill="#ef5350"/>
<rect x="913" y="327" width="5" height="21" fill="#ef5350"/>
<rect x="921" y="325" width="1" height="26" fill="#26a69a"/>
<rect x="919" y="332" width="5" height="19" fill="#26a69a"/>
<rect x="927" y="328" width="1" height="45" fill="#ef5350"/>
<rect x="925" y="331" width="5" height="30" fill="#ef5350"/>
<rect x="933" y="350" width="1" height="19" fill="#26a69a"/>
<rect x="931" y="356" width="5" height="11" fill="#26a69a"/>
<rect x="939" y="355" width="1" height="26" fill="#ef5350"/>
<rect x="937" y="371" width="5" height="9" fill="#ef5350"/>
<rect x="944" y="392" width="1" height="30" fill="#ef5350"/>
<rect x="942" y="395" width="5" height="6" fill="#ef5350"/>
<rect x="950" y="372" width="1" height="29" fill="#26a69a"/>
<rect x="948" y="394" width="5" height="7" fill="#26a69a"/>
<rect x="956" y="353" width="1" height="26" fill="#26a69a"/>
<rect x="954" y="373" width="5" height="5" fill="#26a69a"/>
<rect x="962" y="349" width="1" height="31" fill="#ef5350"/>
<rect x="960" y="361" width="5" height="8" fill="#ef5350"/>
<rect x="967" y="333" width="1" height="58" fill="#ef5350"/>
<rect x="965" y="338" width="5" height="53" fill="#ef5350"/>
<rect x="973" y="366" width="1" height="33" fill="#26a69a"/>
<rect x="971" y="388" width="5" height="11" fill="#26a69a"/>
<rect x="979" y="352" width="1" height="27" fill="#26a69a"/>
<rect x="977" y="355" width="5" height="8" fill="#26a69a"/>
<rect x="985" y="324" width="1" height="28" fill="#26a69a"/>
<rect x="983" y="326" width="5" height="19" fill="#26a69a"/>
<rect x="991" y="320" width="1" height="28" fill="#ef5350"/>
<rect x="989" y="321" width="5" height="14" fill="#ef5350"/>
<rect x="996" y="303" width="1" height="27" fill="#26a69a"/>
<rect x="994" y="323" width="5" height="3" fill="#26a69a"/>
<rect x="1002" y="315" width="1" height="31" fill="#ef5350"/>
<rect x="1000" y="325" width="5" height="21" fill="#ef5350"/>
<rect x="1008" y="320" width="1" height="34" fill="#ef5350"/>
<rect x="1006" y="332" width="5" height="17" fill="#ef5350"/>
<rect x="1014" y="345" width="1" height="31" fill="#26a69a"/>
<rect x="1012" y="359" width="5" height="10" fill="#26a69a"/>
<rect x="1020" y="357" width="1" height="22" fill="#26a69a"/>
<rect x="1018" y="365" width="5" height="7" fill="#26a69a"/>
<rect x="1025" y="354" width="1" height="29" fill="#26a69a"/>
<rect x="1023" y="370" width="5" height="13" fill="#26a69a"/>
<rect x="1031" y="357" width="1" height="43" fill="#ef5350"/>
<rect x="1029" y="358" width="5" height="9" fill="#ef5350"/>
<rect x="1037" y="339" width="1" height="20" fill="#26a69a"/>
<rect x="1035" y="353" width="5" height="1" fill="#26a69a"/>
<rect x="1043" y="352" width="1" height="25" fill="#ef5350"/>
<rect x="1041" y="352" width="5" height="20" fill="#ef5350"/>
<rect x="1048" y="369" width="1" height="33" fill="#26a69a"/>
<rect x="1046" y="384" width="5" height="2" fill="#26a69a"/>
<rect x="1054" y="348" width="1" height="49" fill="#26a69a"/>
<rect x="1052" y="352" width="5" height="33" fill="#26a69a"/>
<rect x="1060" y="314" width="1" height="25" fill="#ef5350"/>
<rect x="1058" y="324" width="5" height="11" fill="#ef5350"/>
<rect x="1066" y="339" width="1" height="36" fill="#ef5350"/>
<rect x="1064" y="341" width="5" height="28" fill="#ef5350"/>
<rect x="1072" y="365" width="1" height="23" fill="#ef5350"/>
<rect x="1070" y="377" width="5" height="5" fill="#ef5350"/>
<rect x="1077" y="351" width="1" height="23" fill="#26a69a"/>
<rect x="1075" y="357" width="5" height="17" fill="#26a69a"/>
<rect x="1083" y="375" width="1" height="30" fill="#ef5350"/>
<rect x="1081" y="384" width="5" height="18" fill="#ef5350"/>
<rect x="1089" y="396" width="1" height="26" fill="#26a69a"/>
<rect x="1087" y="404" width="5" height="18" fill="#26a69a"/>
<rect x="1095" y="401" width="1" height="50" fill="#ef5350"/>
<rect x="1093" y="413" width="5" height="23" fill="#ef5350"/>
<rect x="1101" y="445" width="1" height="27" fill="#ef5350"/>
<rect x="1099" y="451" width="5" height="16" fill="#ef5350"/>
<rect x="1106" y="457" width="1" height="22" fill="#ef5350"/>
<rect x="1104" y="472" width="5" height="3" fill="#ef5350"/>
<rect x="1112" y="452" width="1" height="39" fill="#26a69a"/>
<rect x="1110" y="452" width="5" height="21" fill="#26a69a"/>
<rect x="1118" y="412" width="1" height="28" fill="#ef5350"/>
<rect x="1116" y="437" width="5" height="3" fill="#ef5350"/>
<rect x="1124" y="420" width="1" height="59" fill="#ef5350"/>
<rect x="1122" y="428" width="5" height="41" fill="#ef5350"/>
<rect x="1129" y="466" width="1" height="38" fill="#ef5350"/>
<rect x="1127" y="481" width="5" height="22" fill="#ef5350"/>
<rect x="1135" y="483" width="1" height="47" fill="#26a69a"/>
<rect x="1133" y="499" width="5" height="25" fill="#26a69a"/>
<rect x="1141" y="487" width="1" height="22" fill="#ef5350"/>
<rect x="1139" y="496" width="5" height="10" fill="#ef5350"/>
<rect x="1147" y="471" width="1" height="41" fill="#26a69a"/>
<rect x="1145" y="472" width="5" height="26" fill="#26a69a"/>
<rect x="1153" y="478" width="1" height="25" fill="#ef5350"/>
<rect x="1151" y="490" width="5" height="4" fill="#ef5350"/>
<rect x="1158" y="427" width="1" height="37" fill="#26a69a"/>
<rect x="1156" y="431" width="5" height="33" fill="#26a69a"/>
<rect x="1164" y="418" width="1" height="26" fill="#26a69a"/>
<rect x="1162" y="424" width="5" height="20" fill="#26a69a"/>
<rect x="1170" y="400" width="1" height="34" fill="#ef5350"/>
<rect x="1168" y="408" width="5" height="24" fill="#ef5350"/>
<rect x="1176" y="434" width="1" height="48" fill="#ef5350"/>
<rect x="1174" y="436" width="5" height="46" fill="#ef5350"/>
<rect x="1181" y="463" width="1" height="35" fill="#26a69a"/>
<rect x="1179" y="470" width="5" height="5" fill="#26a69a"/>
<rect x="1187" y="459" width="1" height="36" fill="#26a69a"/>
<rect x="1185" y="467" width="5" height="9" fill="#26a69a"/>
<rect x="1193" y="463" width="1" height="39" fill="#ef5350"/>
<rect x="1191" y="469" width="5" height="32" fill="#ef5350"/>
<rect x="1199" y="498" width="1" height="24" fill="#ef5350"/>
<rect x="1197" y="507" width="5" height="4" fill="#ef5350"/>
<rect x="1205" y="532" width="1" height="30" fill="#ef5350"/>
<rect x="1203" y="546" width="5" height="16" fill="#ef5350"/>
<rect x="1210" y="553" width="1" height="43" fill="#ef5350"/>
<rect x="1208" y="556" width="5" height="6" fill="#ef5350"/>
<rect x="1216" y="537" width="1" height="34" fill="#26a69a"/>
<rect x="1214" y="544" width="5" height="17" fill="#26a69a"/>
<rect x="1222" y="533" width="1" height="30" fill="#26a69a"/>
<rect x="1220" y="542" width="5" height="5" fill="#26a69a"/>
<rect x="1228" y="562" width="1" height="29" fill="#26a69a"/>
<rect x="1226" y="575" width="5" height="8" fill="#26a69a"/>
<rect x="1234" y="556" width="1" height="32" fill="#ef5350"/>
<rect x="1232" y="570" width="5" height="15" fill="#ef5350"/>
<rect x="1239" y="561" width="1" height="25" fill="#ef5350"/>
<rect x="1237" y="567" width="5" height="12" fill="#ef5350"/>
<rect x="1245" y="555" width="1" height="22" fill="#26a69a"/>
<rect x="1243" y="559" width="5" height="15" fill="#26a69a"/>
<rect x="1251" y="530" width="1" height="34" fill="#26a69a"/>
<rect x="1249" y="535" width="5" height="16" fill="#26a69a"/>
<rect x="1257" y="477" width="1" height="36" fill="#26a69a"/>
<rect x="1255" y="490" width="5" height="23" fill="#26a69a"/>
<rect x="1262" y="463" width="1" height="25" fill="#ef5350"/>
<rect x="1260" y="477" width="5" height="4" fill="#ef5350"/>
<rect x="1268" y="473" width="1" height="23" fill="#ef5350"/>
<rect x="1266" y="474" width="5" height="18" fill="#ef5350"/>
<rect x="1274" y="479" width="1" height="26" fill="#26a69a"/>
<rect x="1272" y="488" width="5" height="15" fill="#26a69a"/>
<rect x="1280" y="460" width="1" height="41" fill="#26a69a"/>
<rect x="1278" y="472" width="5" height="29" fill="#26a69a"/>
<rect x="1286" y="444" width="1" height="31" fill="#26a69a"/>
<rect x="1284" y="446" width="5" height="23" fill="#26a69a"/>
<rect x="1291" y="455" width="1" height="29" fill="#ef5350"/>
<rect x="1289" y="458" width="5" height="14" fill="#ef5350"/>
<rect x="1297" y="447" width="1" height="20" fill="#26a69a"/>
<rect x="1295" y="448" width="5" height="13" fill="#26a69a"/>
<rect x="1303" y="388" width="1" height="61" fill="#26a69a"/>
<rect x="1301" y="392" width="5" height="54" fill="#26a69a"/>
<rect x="1309" y="362" width="1" height="27" fill="#26a69a"/>
<rect x="1307" y="364" width="5" height="25" fill="#26a69a"/>
<rect x="1315" y="340" width="1" height="17" fill="#ef5350"/>
<rect x="1313" y="352" width="5" height="5" fill="#ef5350"/>
<rect x="1320" y="322" width="1" height="26" fill="#26a69a"/>
<rect x="1318" y="329" width="5" height="19" fill="#26a69a"/>
<rect x="1326" y="326" width="1" height="16" fill="#ef5350"/>
<rect x="1324" y="329" width="5" height="4" fill="#ef5350"/>
<rect x="1332" y="323" width="1" height="11" fill="#ef5350"/>
<rect x="1330" y="330" width="5" height="3" fill="#ef5350"/>
<rect x="1338" y="312" width="1" height="14" fill="#ef5350"/>
<rect x="1336" y="319" width="5" height="3" fill="#ef5350"/>
<rect x="1343" y="311" width="1" height="10" fill="#26a69a"/>
<rect x="1341" y="313" width="5" height="5" fill="#26a69a"/>
<rect x="1349" y="303" width="1" height="15" fill="#26a69a"/>
<rect x="1347" y="306" width="5" height="9" fill="#26a69a"/>
<rect x="1355" y="304" width="1" height="17" fill="#ef5350"/>
<rect x="1353" y="310" width="5" height="10" fill="#ef5350"/>
<rect x="1361" y="313" width="1" height="16" fill="#26a69a"/>
<rect x="1359" y="313" width="5" height="12" fill="#26a69a"/>
<rect x="1367" y="268" width="1" height="42" fill="#26a69a"/>
<rect x="1365" y="277" width="5" height="33" fill="#26a69a"/>
<rect x="1372" y="257" width="1" height="20" fill="#26a69a"/>
<rect x="1370" y="267" width="5" height="3" fill="#26a69a"/>
<rect x="1378" y="229" width="1" height="25" fill="#26a69a"/>
<rect x="1376" y="229" width="5" height="22" fill="#26a69a"/>
<rect x="1384" y="217" width="1" height="15" fill="#26a69a"/>
<rect x="1382" y="228" width="5" height="4" fill="#26a69a"/>
<rect x="1390" y="197" width="1" height="33" fill="#26a69a"/>
<rect x="1388" y="201" width="5" height="28" fill="#26a69a"/>
<rect x="1396" y="160" width="1" height="41" fill="#26a69a"/>
<rect x="1394" y="176" width="5" height="19" fill="#26a69a"/>
<rect x="1401" y="176" width="1" height="12" fill="#26a69a"/>
<rect x="1399" y="181" width="5" height="2" fill="#26a69a"/>
<rect x="1407" y="149" width="1" height="32" fill="#26a69a"/>
<rect x="1405" y="154" width="5" height="25" fill="#26a69a"/>
<rect x="1413" y="142" width="1" height="18" fill="#26a69a"/>
<rect x="1411" y="147" width="5" height="8" fill="#26a69a"/>
<rect x="1419" y="138" width="1" height="17" fill="#ef5350"/>
<rect x="1417" y="141" width="5" height="8" fill="#ef5350"/>
<rect x="1424" y="138" width="1" height="16" fill="#ef5350"/>
<rect x="1422" y="143" width="5" height="11" fill="#ef5350"/>
<rect x="1430" y="104" width="1" height="69" fill="#ef5350"/>
<rect x="1428" y="115" width="5" height="42" fill="#ef5350"/>
<rect x="1436" y="127" width="1" height="37" fill="#ef5350"/>
<rect x="1434" y="141" width="5" height="16" fill="#ef5350"/>
<rect x="1442" y="157" width="1" height="25" fill="#ef5350"/>
<rect x="1440" y="170" width="5" height="8" fill="#ef5350"/>
<rect x="1448" y="156" width="1" height="20" fill="#26a69a"/>
<rect x="1446" y="157" width="5" height="19" fill="#26a69a"/>
<rect x="1453" y="148" width="1" height="20" fill="#ef5350"/>
<rect x="1451" y="150" width="5" height="11" fill="#ef5350"/>
<rect x="1459" y="165" width="1" height="17" fill="#26a69a"/>
<rect x="1457" y="169" width="5" height="5" fill="#26a69a"/>
<rect x="1465" y="159" width="1" height="18" fill="#26a69a"/>
<rect x="1463" y="165" width="5" height="8" fill="#26a69a"/>
<rect x="1471" y="151" width="1" height="16" fill="#26a69a"/>
<rect x="1469" y="158" width="5" height="4" fill="#26a69a"/>
<rect x="1477" y="149" width="1" height="20" fill="#ef5350"/>
<rect x="1475" y="150" width="5" height="17" fill="#ef5350"/>
<rect x="1482" y="154" width="1" height="8" fill="#26a69a"/>
<rect x="1480" y="156" width="5" height="6" fill="#26a69a"/>
<rect x="1488" y="112" width="1" height="65" fill="#ef5350"/>
<rect x="1486" y="140" width="5" height="13" fill="#ef5350"/>
</g>
<g clip-path="url(#cp)"><circle cx="1494" cy="781.2" r="9.2" fill="#fff" stroke="#9c27b0" stroke-width="1.5"/><rect x="1489.7" y="780.8" width="1.3" height="1.4" fill="#d9a0e3"/></g>
<g shape-rendering="crispEdges" fill="#e0e2e6"><rect x="1491" y="28" width="1" height="794"/><rect x="11" y="794" width="1546" height="1"/></g>
<text x="1498.96" y="67.05" font-size="12" fill="#131722" textLength="48.91" lengthAdjust="spacingAndGlyphs">17200.00</text>
<text x="1498.96" y="108.55" font-size="12" fill="#131722" textLength="48.91" lengthAdjust="spacingAndGlyphs">17000.00</text>
<text x="1498.96" y="150.05" font-size="12" fill="#131722" textLength="48.91" lengthAdjust="spacingAndGlyphs">16800.00</text>
<text x="1498.96" y="191.55" font-size="12" fill="#131722" textLength="48.91" lengthAdjust="spacingAndGlyphs">16600.00</text>
<text x="1498.96" y="233.05" font-size="12" fill="#131722" textLength="48.91" lengthAdjust="spacingAndGlyphs">16400.00</text>
<text x="1498.96" y="274.55" font-size="12" fill="#131722" textLength="48.91" lengthAdjust="spacingAndGlyphs">16200.00</text>
<text x="1498.96" y="316.05" font-size="12" fill="#131722" textLength="48.91" lengthAdjust="spacingAndGlyphs">16000.00</text>
<text x="1498.96" y="357.55" font-size="12" fill="#131722" textLength="48.91" lengthAdjust="spacingAndGlyphs">15800.00</text>
<text x="1498.96" y="399.05" font-size="12" fill="#131722" textLength="48.91" lengthAdjust="spacingAndGlyphs">15600.00</text>
<text x="1498.96" y="440.55" font-size="12" fill="#131722" textLength="48.91" lengthAdjust="spacingAndGlyphs">15400.00</text>
<text x="1498.96" y="482.05" font-size="12" fill="#131722" textLength="48.91" lengthAdjust="spacingAndGlyphs">15200.00</text>
<text x="1498.96" y="523.55" font-size="12" fill="#131722" textLength="48.91" lengthAdjust="spacingAndGlyphs">15000.00</text>
<text x="1498.96" y="565.05" font-size="12" fill="#131722" textLength="48.91" lengthAdjust="spacingAndGlyphs">14800.00</text>
<text x="1498.96" y="606.55" font-size="12" fill="#131722" textLength="48.91" lengthAdjust="spacingAndGlyphs">14600.00</text>
<text x="1498.96" y="648.05" font-size="12" fill="#131722" textLength="48.91" lengthAdjust="spacingAndGlyphs">14400.00</text>
<text x="1498.96" y="689.55" font-size="12" fill="#131722" textLength="48.91" lengthAdjust="spacingAndGlyphs">14200.00</text>
<text x="1498.96" y="731.05" font-size="12" fill="#131722" textLength="48.91" lengthAdjust="spacingAndGlyphs">14000.00</text>
<text x="1498.96" y="772.55" font-size="12" fill="#131722" textLength="48.91" lengthAdjust="spacingAndGlyphs">13800.00</text>
<rect x="1492" y="28" width="64" height="33" fill="#fff"/>
<rect x="1495" y="30.7" width="58.2" height="26.4" rx="4" fill="#fff" stroke="#e6e8ef" stroke-width="1.2"/>
<text x="1504.03" y="48.85" font-size="12" fill="#131722" textLength="21.89" lengthAdjust="spacingAndGlyphs">EUR</text>
<rect x="1491.5" y="144.5" width="61" height="16" rx="2" fill="#fff" stroke="#ef5350"/>
<text x="1498.94" y="156.8" font-size="12" fill="#ef5350" textLength="48.87" lengthAdjust="spacingAndGlyphs">16769.36</text>
<path d="M1461,192 h29 v17 h-29 a2,2 0 0 1 -2,-2 v-13 a2,2 0 0 1 2,-2z" fill="#ef5350"/>
<path d="M1491,192 h60 a2,2 0 0 1 2,2 v13 a2,2 0 0 1 -2,2 h-60z" fill="#ef5350"/>
<text x="1463.90" y="204.5" font-size="12" fill="#fff" stroke="#fff" stroke-width="0.45" textLength="21.29" lengthAdjust="spacingAndGlyphs">DAX</text>
<text x="1499.25" y="204.5" font-size="12" fill="#fff" stroke="#fff" stroke-width="0.45" textLength="48.38" lengthAdjust="spacingAndGlyphs">16538.39</text>
<g clip-path="url(#cpt)">
<text x="129.75" y="811.8" font-size="12" fill="#131722" textLength="20.47" lengthAdjust="spacingAndGlyphs">Feb</text>
<text x="245.33" y="811.8" font-size="12" fill="#131722" textLength="20.33" lengthAdjust="spacingAndGlyphs">Mar</text>
<text x="380.06" y="811.8" font-size="12" fill="#131722" textLength="17.70" lengthAdjust="spacingAndGlyphs">Apr</text>
<text x="482.43" y="811.8" font-size="12" fill="#131722" textLength="20.95" lengthAdjust="spacingAndGlyphs">May</text>
<text x="610.81" y="811.8" font-size="12" fill="#131722" textLength="19.59" lengthAdjust="spacingAndGlyphs">Jun</text>
<text x="739.78" y="811.8" font-size="12" fill="#131722" textLength="15.87" lengthAdjust="spacingAndGlyphs">Jul</text>
<text x="859.42" y="811.8" font-size="12" fill="#131722" textLength="20.05" lengthAdjust="spacingAndGlyphs">Aug</text>
<text x="992.08" y="811.8" font-size="12" fill="#131722" textLength="19.61" lengthAdjust="spacingAndGlyphs">Sep</text>
<text x="1114.31" y="811.8" font-size="12" fill="#131722" textLength="18.25" lengthAdjust="spacingAndGlyphs">Oct</text>
<text x="1240.67" y="811.8" font-size="12" fill="#131722" textLength="20.40" lengthAdjust="spacingAndGlyphs">Nov</text>
<text x="1367.92" y="811.8" font-size="12" fill="#131722" textLength="20.26" lengthAdjust="spacingAndGlyphs">Dec</text>
<text x="-0.4" y="811.9" font-size="12" fill="#131722" stroke="#131722" stroke-width="0.35" textLength="27.7" lengthAdjust="spacingAndGlyphs">2023</text>
<text x="1474.3" y="811.9" font-size="12" fill="#131722" stroke="#131722" stroke-width="0.35" textLength="27.7" lengthAdjust="spacingAndGlyphs">2024</text>
</g>
<text x="17.44" y="46.3" font-size="12" fill="#131722" textLength="112.02" lengthAdjust="spacingAndGlyphs">DAX Index, 1D, XETR</text>
<text x="135.34" y="46.3" font-size="12" fill="#131722" textLength="8.45" lengthAdjust="spacingAndGlyphs">O</text>
<text x="145.10" y="46.3" font-size="12" fill="#ef5350" textLength="47.03" lengthAdjust="spacingAndGlyphs">16771.35</text>
<text x="199.29" y="46.3" font-size="12" fill="#131722" textLength="8.56" lengthAdjust="spacingAndGlyphs">H</text>
<text x="207.95" y="46.3" font-size="12" fill="#ef5350" textLength="47.86" lengthAdjust="spacingAndGlyphs">16784.07</text>
<text x="262.82" y="46.3" font-size="12" fill="#131722" textLength="6.65" lengthAdjust="spacingAndGlyphs">L</text>
<text x="270.47" y="46.3" font-size="12" fill="#ef5350" textLength="47.31" lengthAdjust="spacingAndGlyphs">16479.92</text>
<text x="324.97" y="46.3" font-size="12" fill="#131722" textLength="7.16" lengthAdjust="spacingAndGlyphs">C</text>
<text x="332.70" y="46.3" font-size="12" fill="#ef5350" textLength="47.89" lengthAdjust="spacingAndGlyphs">16538.39</text>
<text x="387.66" y="46.3" font-size="12" fill="#ef5350" textLength="41.92" lengthAdjust="spacingAndGlyphs">−230.97</text>
<text x="433.86" y="46.3" font-size="12" fill="#ef5350" textLength="45.36" lengthAdjust="spacingAndGlyphs">(−1.38%)</text>
<text x="18.16" y="63.2" font-size="12" fill="#131722" textLength="40.97" lengthAdjust="spacingAndGlyphs">Vol (30)</text>
<text x="66.12" y="63.2" font-size="12" fill="#ef5350" textLength="36.48" lengthAdjust="spacingAndGlyphs">2.983B</text>
<text x="109.90" y="63.2" font-size="12" fill="#2962ff" textLength="37.16" lengthAdjust="spacingAndGlyphs">3.091B</text>
<g fill="#131722"><path d="M10.1,834.2 h8 v9.7 h-4.3 v-6.1 h-3.7z"/><circle cx="21.1" cy="835.9" r="2"/><path d="M24.6,834.2 h4.9 l-3.6,9.7 h-4.8z"/></g>
<text x="32.96" y="843.9" font-size="13" fill="#131722" textLength="70.34" lengthAdjust="spacingAndGlyphs">TradingView</text>
</svg></body></html>
